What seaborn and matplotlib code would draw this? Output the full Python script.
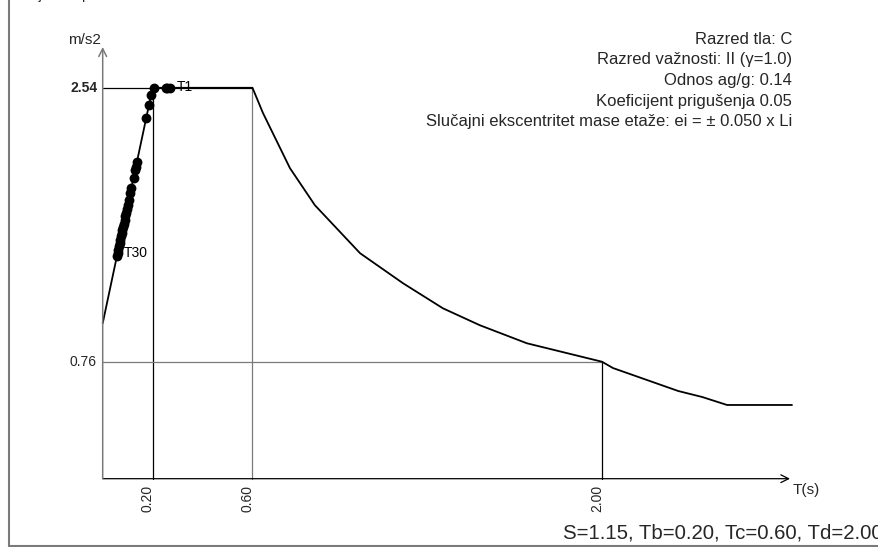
import matplotlib
matplotlib.use("Agg")
import matplotlib.pyplot as plt
import seaborn as sns
import pandas as pd

# ---------------- data ----------------
# design spectrum polyline: period T (s) and Sa (m/s2)
curve_T = [0.0, 0.20, 0.60, 0.642, 0.750, 0.850, 1.031, 1.203, 1.363, 1.511,
           1.699, 2.00, 2.044, 2.305, 2.401, 2.501, 2.761]
curve_Sa = [1.01, 2.54, 2.54, 2.376, 2.018, 1.777, 1.465, 1.270, 1.107, 0.997,
            0.880, 0.76, 0.719, 0.570, 0.531, 0.479, 0.479]

# modal periods T1..T30 and their spectral accelerations
mode_T = [0.270, 0.258, 0.252, 0.207, 0.1936, 0.1857, 0.1744, 0.137, 0.133, 0.130,
          0.124, 0.115, 0.110, 0.105, 0.100, 0.097, 0.094, 0.091, 0.088, 0.085,
          0.082, 0.079, 0.077, 0.074, 0.071, 0.068, 0.065, 0.062, 0.060, 0.057]
mode_Sa = [2.54, 2.54, 2.54, 2.54, 2.491, 2.430, 2.344, 2.060, 2.027, 2.006,
           1.956, 1.887, 1.854, 1.811, 1.778, 1.752, 1.726, 1.704, 1.681, 1.658,
           1.635, 1.616, 1.597, 1.577, 1.554, 1.532, 1.509, 1.486, 1.466, 1.447]

Tb, Tc, Td = 0.20, 0.60, 2.00
Sa_max, Sa_Td = 2.54, 0.76
x_tick_labels = ["0.20", "0.60", "2.00"]
y_tick_labels = ["2.54", "0.76"]
info_lines = ["Razred tla: C",
              "Razred važnosti: II (γ=1.0)",
              "Odnos ag/g: 0.14",
              "Koeficijent prigušenja 0.05",
              "Slučajni ekscentritet mase etaže: ei = ± 0.050 x Li"]
footer = "S=1.15, Tb=0.20, Tc=0.60, Td=2.00"
title = "Projektni spektar"

# ---------------- figure ----------------
sns.set_theme(style="white")
plt.rcParams["font.family"] = ["Liberation Sans", "DejaVu Sans"]

W, H = 879, 547
fig = plt.figure(figsize=(W / 100, H / 100), dpi=100)
ax = fig.add_axes([0, 0, 1, 1])

# pixel <-> data mapping
X0, XS = 102.7, 249.65
Y0, YS = 478.7, 153.9
ax.set_xlim(-X0 / XS, (W - X0) / XS)
ax.set_ylim(-(H - Y0) / YS, Y0 / YS)
ax.set_axis_off()

def px(x, y):
    return (x - X0) / XS, (Y0 - y) / YS

gray = "#7a7a7a"
lw_thin = 0.9

# reference lines
ax.plot([Tb, Tb], [0, Sa_max], color="black", lw=lw_thin)
ax.plot([Tc, Tc], [0, Sa_max], color=gray, lw=lw_thin)
ax.plot([Td, Td], [0, Sa_Td], color="black", lw=lw_thin)
ax.plot([0, Tc], [Sa_max, Sa_max], color="black", lw=lw_thin)
ax.plot([0, Td], [Sa_Td, Sa_Td], color=gray, lw=lw_thin)

# axes with arrows
x_end = px(790, 0)[0]
y_end = px(0, 47)[1]
ax.annotate("", xy=(x_end, 0), xytext=(0, 0),
            arrowprops=dict(arrowstyle="->", color="black", lw=lw_thin,
                            shrinkA=0, shrinkB=0, mutation_scale=14))
ax.annotate("", xy=(0, y_end), xytext=(0, 0),
            arrowprops=dict(arrowstyle="->", color=gray, lw=1.1,
                            shrinkA=0, shrinkB=0, mutation_scale=14))

# spectrum curve and modal points
df_curve = pd.DataFrame({"T": curve_T, "Sa": curve_Sa})
sns.lineplot(data=df_curve, x="T", y="Sa", sort=False, color="black", lw=1.3,
             ax=ax, estimator=None)
df_modes = pd.DataFrame({"T": mode_T, "Sa": mode_Sa})
sns.scatterplot(data=df_modes, x="T", y="Sa", color="black", s=50,
                edgecolor="black", linewidth=0, ax=ax, zorder=5)
ax.set_xlim(-X0 / XS, (W - X0) / XS)
ax.set_ylim(-(H - Y0) / YS, Y0 / YS)
ax.set_axis_off()

# labels
ax.text(mode_T[0] + 7 / XS, mode_Sa[0] + 1 / YS, "T1", fontsize=10,
        ha="left", va="center", color="black")
ax.text(mode_T[-1] + 7 / XS, mode_Sa[-1] + 3 / YS, "T30", fontsize=10,
        ha="left", va="center", color="black")

ax.text(*px(84, 40), "m/s2", fontsize=11, ha="center", va="center")
ax.text(*px(793, 490), "T(s)", fontsize=11, ha="left", va="center")

ax.text(-5 / XS, Sa_max, y_tick_labels[0], fontsize=10, fontweight="bold",
        ha="right", va="center")
ax.text(-6 / XS, Sa_Td, y_tick_labels[1], fontsize=10, ha="right", va="center")

for tv, lab in zip([Tb, Tc, Td], x_tick_labels):
    ax.text(tv - 5 / XS, px(0, 485)[1], lab, fontsize=10, rotation=90,
            ha="center", va="top")

# info block (right aligned)
for i, line in enumerate(info_lines):
    ax.text(*px(792, 39 + i * 20.7), line, fontsize=12, ha="right", va="center")

ax.text(*px(563, 533), footer, fontsize=14.7, ha="left", va="center")

# title partially cut at the top edge (as in the reference)
ax.text(*px(17, -5), title, fontsize=10, ha="left", va="center")

# outer frame (left and bottom)
ax.plot([px(9, 0)[0], px(9, 0)[0]], [px(0, -5)[1], px(0, 546)[1]], color=gray, lw=1.5,
        clip_on=False)
ax.plot([px(9, 0)[0], px(885, 0)[0]], [px(0, 546)[1], px(0, 546)[1]], color=gray, lw=1.5,
        clip_on=False)

fig.savefig("out.png", dpi=100)
